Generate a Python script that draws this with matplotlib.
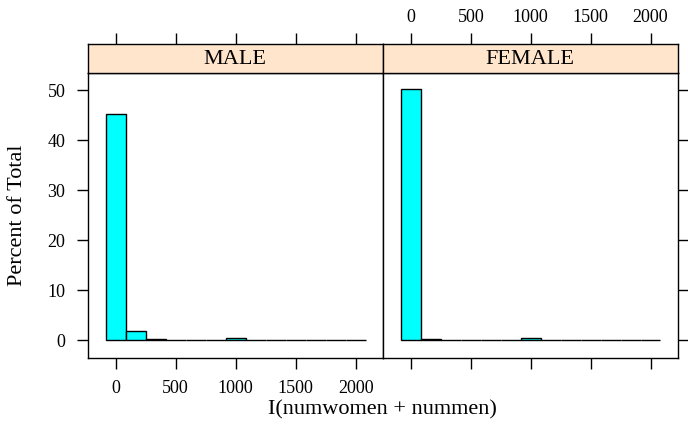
import matplotlib
matplotlib.use("Agg")
import matplotlib.pyplot as plt
import numpy as np

# histogram of group size, percent of total per bin, split by sex
panels = ["MALE", "FEMALE"]
bin_centers = [0, 166.7, 333.3, 500, 666.7, 833.3, 1000, 1166.7,
               1333.3, 1500, 1666.7, 1833.3, 2000]
bin_width = 166.7
male_pct = [45.3, 1.85, 0.15, 0.05, 0.03, 0.03, 0.5, 0, 0, 0, 0, 0, 0.12]
female_pct = [50.2, 0.3, 0.03, 0.02, 0.0, 0.0, 0.35, 0, 0, 0, 0, 0, 0.02]
x_ticks = [0, 500, 1000, 1500, 2000]
y_ticks = [0, 10, 20, 30, 40, 50]

FONT = "Liberation Serif"
plt.rcParams["font.family"] = FONT

W, H = 688, 436
fig = plt.figure(figsize=(W / 100, H / 100), dpi=100)

panel_x = [87.7, 383.0, 677.7]
panel_top, panel_bot, strip_top = 72.7, 357.7, 44.0
XLIM = (-233, 2227)
YLIM = (-3.5, 53.5)

def fx(px):
    return px / W

def fy(py):
    return 1 - py / H

for i, (name, pct) in enumerate(zip(panels, [male_pct, female_pct])):
    x0, x1 = panel_x[i], panel_x[i + 1]
    ax = fig.add_axes([fx(x0), fy(panel_bot), fx(x1 - x0), fy(panel_top) - fy(panel_bot)])
    ax.bar(bin_centers, pct, width=bin_width, color="#00ffff",
           edgecolor="black", linewidth=1.0)
    ax.set_xlim(*XLIM)
    ax.set_ylim(*YLIM)
    for s in ax.spines.values():
        s.set_linewidth(1.0)
    ax.set_xticks(x_ticks)
    ax.set_yticks(y_ticks)
    ax.tick_params(direction="out", length=8, width=1.0, labelsize=13, pad=8)
    if i == 0:
        ax.tick_params(axis="x", bottom=True, labelbottom=True, top=False)
        ax.tick_params(axis="y", left=True, labelleft=True, right=False)
    else:
        ax.tick_params(axis="x", bottom=True, labelbottom=False, top=False)
        ax.tick_params(axis="y", left=False, labelleft=False, right=True, labelright=False)

    # strip with panel name
    sx = fig.add_axes([fx(x0), fy(panel_top), fx(x1 - x0), fy(strip_top) - fy(panel_top)])
    sx.set_facecolor("#ffe5cc")
    sx.set_xlim(*XLIM)
    sx.set_yticks([])
    sx.set_xticks(x_ticks)
    for s in sx.spines.values():
        s.set_linewidth(1.0)
    sx.tick_params(axis="x", direction="out", length=8, width=1.0, labelsize=13, pad=5,
                   bottom=False, labelbottom=False, top=True, labeltop=(i == 1))
    sx.text(0.5, 0.45, name, transform=sx.transAxes, ha="center", va="center",
            fontsize=16)

fig.text(fx(18), fy((panel_top + panel_bot) / 2), "Percent of Total",
         rotation=90, ha="center", va="center", fontsize=16)
fig.text(fx((panel_x[0] + panel_x[2]) / 2), fy(410), "I(numwomen + nummen)",
         ha="center", va="center", fontsize=16)

fig.savefig("out.png", dpi=100)
